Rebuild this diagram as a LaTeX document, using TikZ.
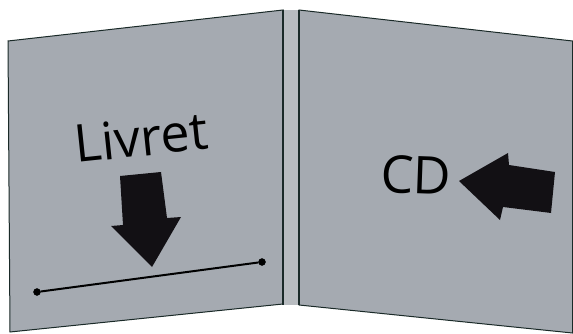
\documentclass[tikz,border=0pt]{standalone}
\usepackage{fontspec}
\setmainfont{Open Sans}
\usepackage{tikz}
\definecolor{panelgray}{HTML}{A5AAB1}
\definecolor{spinegray}{HTML}{B8BCC0}
\definecolor{edgedark}{HTML}{1A2A28}
\definecolor{arrowblack}{HTML}{121014}
\tikzset{dot/.style={draw,shape=circle,fill=black,inner sep=0pt,minimum size=7pt}}
\tikzset{panel/.style={fill=panelgray,draw=edgedark,line width=1pt}}
\tikzset{label/.style={font=\fontsize{52}{52}\selectfont,inner sep=0pt,anchor=base west}}

\begin{document}
\begin{tikzpicture}[x=1pt, y=-1pt]
    \useasboundingbox (0,0) rectangle (573,334);
    
    % the two panels
    \draw [panel] (8,41) -- (283,10) -- (283,304) -- (10,332) -- cycle;
    \draw [panel] (299,10) -- (572.5,41) -- (572.5,333) -- (299,305) -- cycle;
    
    % spine
    \fill [spinegray] (283,10) rectangle (299,305);
    \draw [edgedark, line width=2pt] (283,10) -- (283,305);
    \draw [edgedark, line width=2pt] (299,10) -- (299,305);
    
    % livret side
    \node [label, rotate=6] (livret) at (76,163) {Livret};
    \fill [arrowblack] (120,176) -- (161,172) -- (167,218) -- (181,217) -- (152,267) -- (111,226) -- (123,225) -- cycle;
    \node [dot] (a) at (37,292) {};
    \node [dot] (b) at (262,262) {};
    \draw [black, line width=2pt] (a) -- (b);
    
    % cd side
    \node [label, rotate=-2] (cd) at (380,192) {CD};
    \fill [arrowblack] (459,181) -- (508,153) -- (509,165) -- (555,172) -- (551,213) -- (503,207) -- (500,220) -- cycle;
    
\end{tikzpicture}
\end{document}
